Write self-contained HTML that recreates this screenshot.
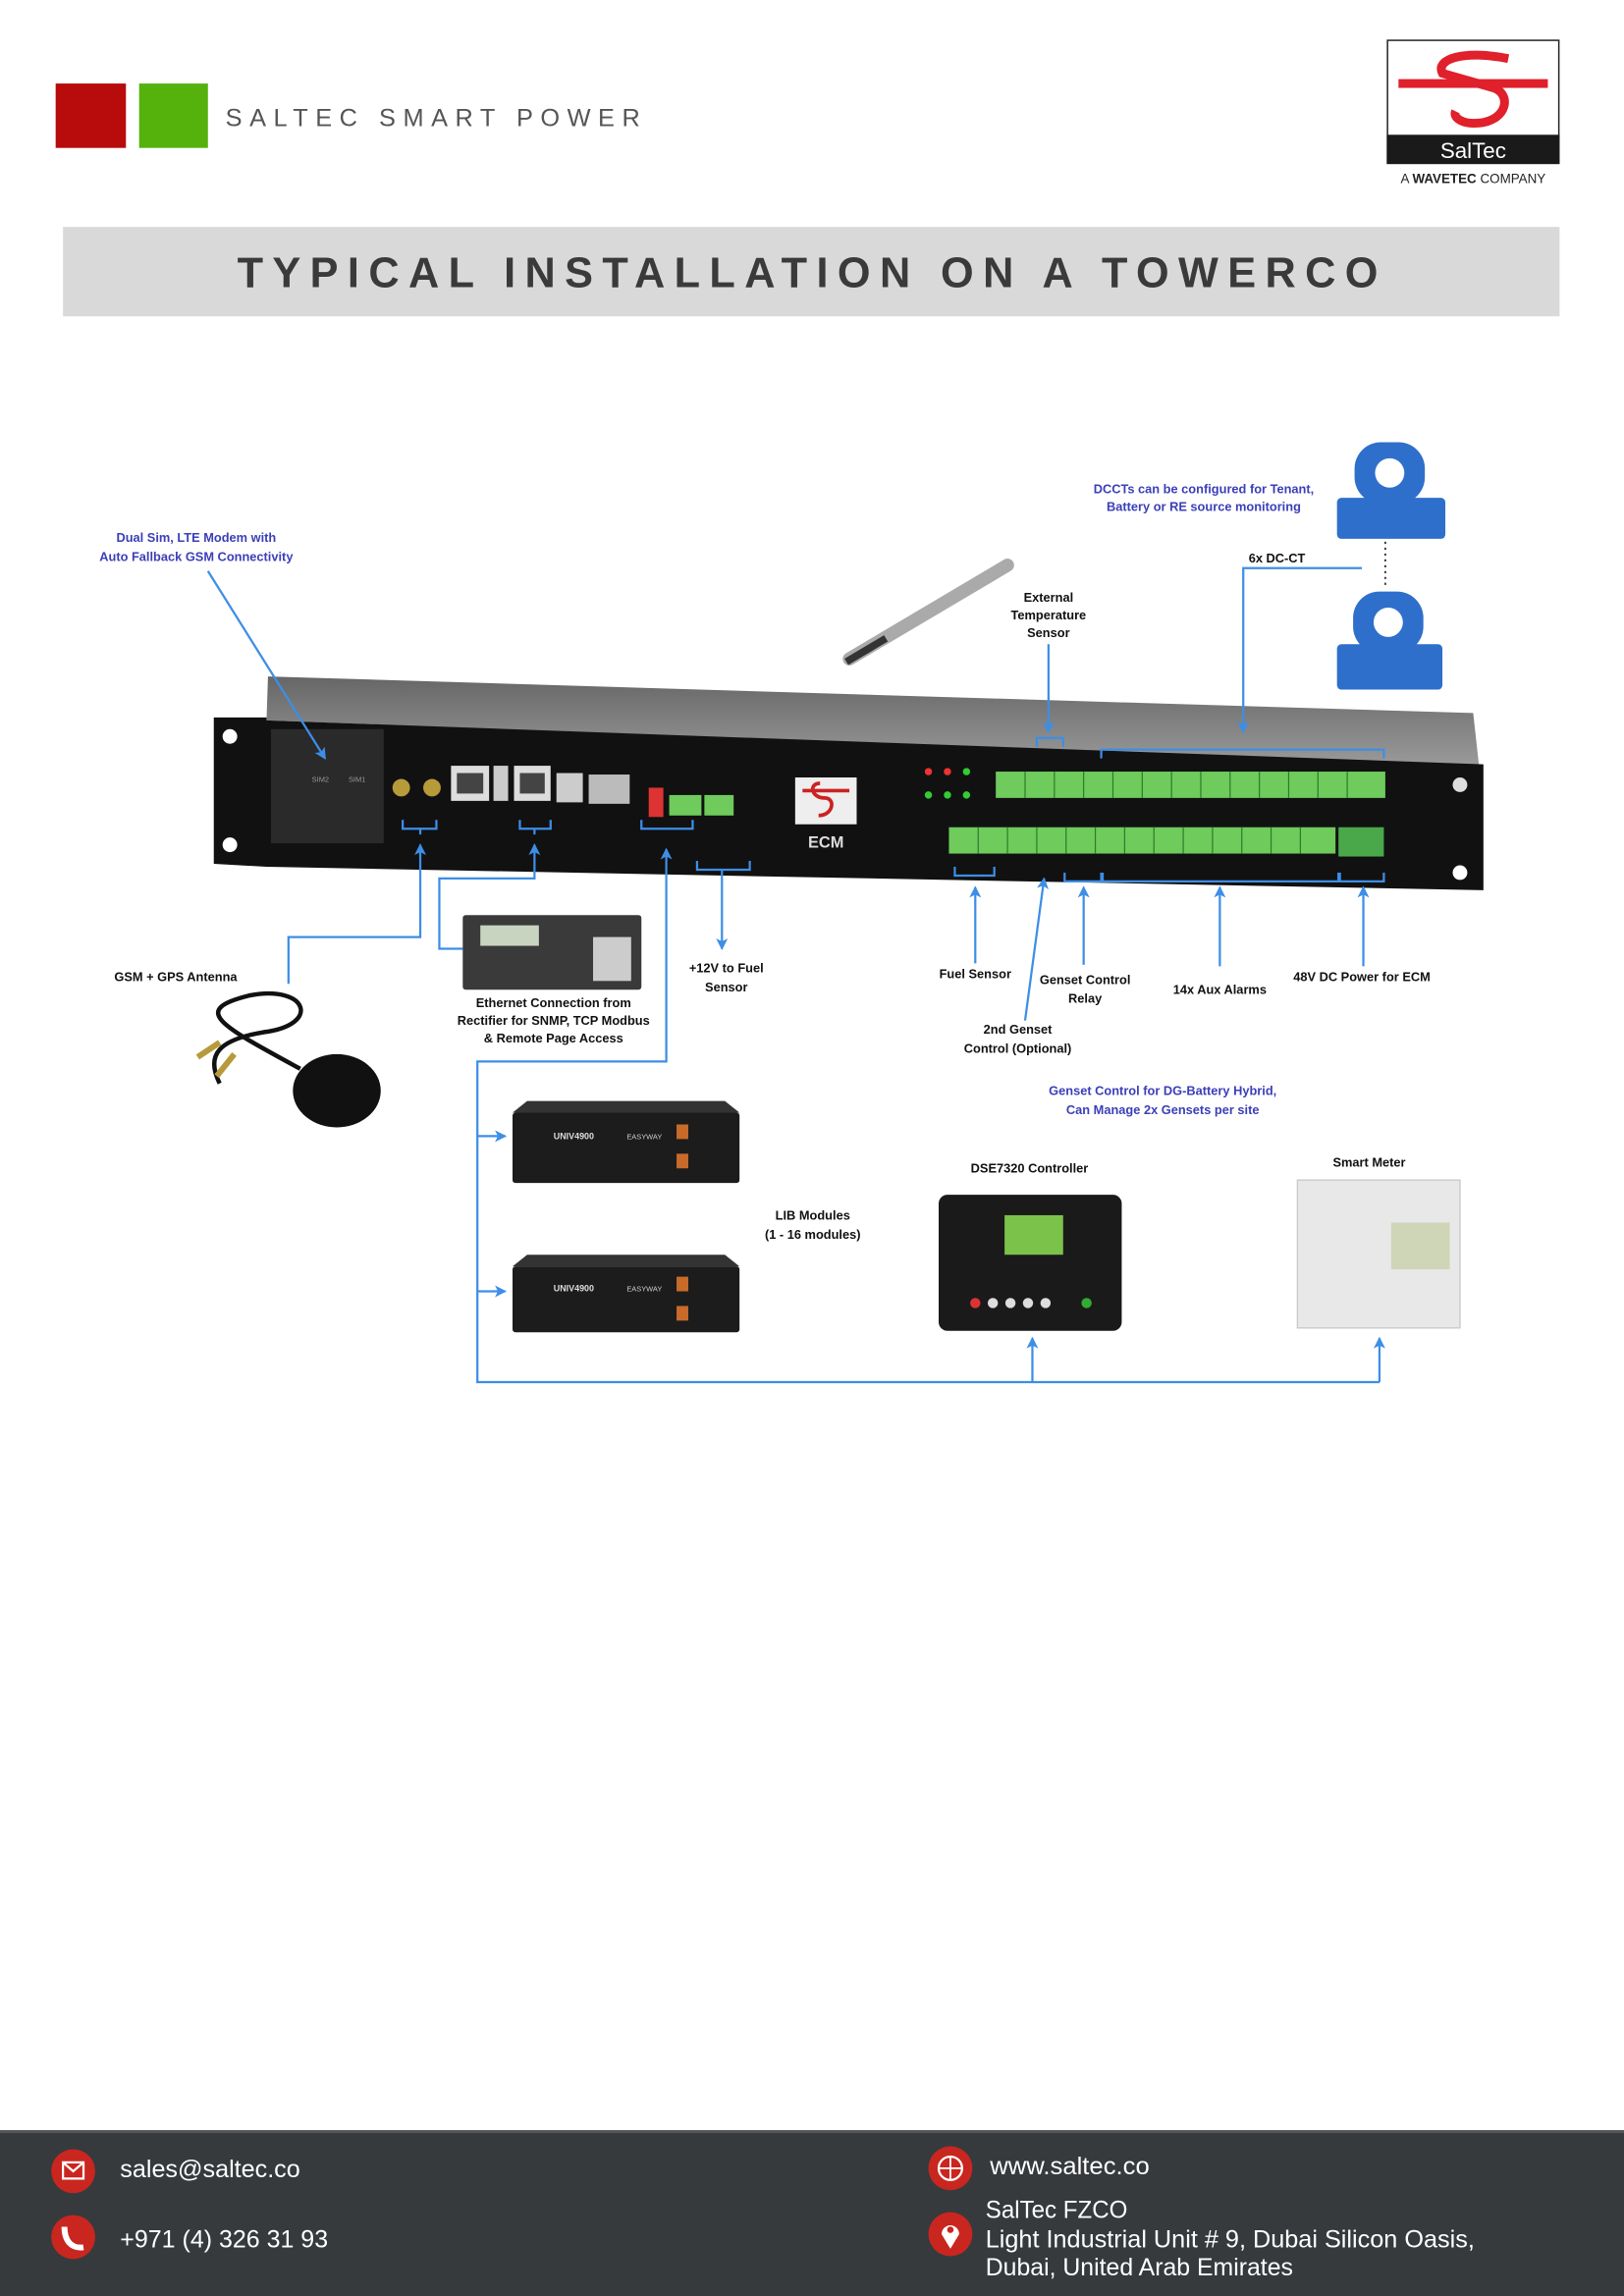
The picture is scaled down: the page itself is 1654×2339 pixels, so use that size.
<!DOCTYPE html>
<html><head><meta charset="utf-8"><style>
html,body{margin:0;padding:0;background:#fff;}
svg{display:block;}
text{font-family:"Liberation Sans",sans-serif;}
.bl{fill:#3b3fb8;font-weight:bold;font-size:8.6px;text-anchor:middle;}
.k{fill:#111;font-weight:bold;font-size:8.6px;text-anchor:middle;}
.ln{stroke:#3d8ee6;stroke-width:1.5;fill:none;}
.ft{fill:#fff;font-size:17px;}
</style></head><body>
<svg width="1654" height="2339" viewBox="0 0 1109 1568.2" xmlns="http://www.w3.org/2000/svg">
<defs>
<marker id="a" markerWidth="8" markerHeight="8" refX="7" refY="4" orient="auto" markerUnits="userSpaceOnUse">
<path d="M0,0 L8,4 L0,8 L2,4 Z" fill="#3d8ee6"/></marker>
<linearGradient id="top" x1="0" y1="0" x2="0" y2="1"><stop offset="0" stop-color="#666"/><stop offset="1" stop-color="#9a9a9a"/></linearGradient>
</defs>
<!-- header -->
<rect x="38" y="57" width="48" height="44" fill="#b80b0b"/>
<rect x="95" y="57" width="47" height="44" fill="#55b20d"/>
<text x="154" y="86" font-size="17" fill="#555" textLength="283" lengthAdjust="spacing">SALTEC SMART POWER</text>
<rect x="947.5" y="27.5" width="117" height="84" fill="#fff" stroke="#222"/>
<path d="M1030,40 C1000,34 980,40 985,50 L1020,60 C1032,64 1030,82 1010,84 C998,85 992,80 994,76" stroke="#e0202a" stroke-width="6" fill="none"/>
<rect x="955" y="54" width="102" height="6" fill="#e0202a"/>
<rect x="947" y="92" width="118" height="20" fill="#1a1a1a"/>
<text x="1006" y="108" font-size="15" fill="#fff" text-anchor="middle">SalTec</text>
<text x="1006" y="125" font-size="9" fill="#222" text-anchor="middle"><tspan>A </tspan><tspan font-weight="bold">WAVETEC</tspan><tspan> COMPANY</tspan></text>
<rect x="43" y="155" width="1022" height="61" fill="#d9d9d9"/>
<text x="162" y="196" font-size="29" font-weight="bold" fill="#3a3a3a" textLength="779" lengthAdjust="spacing">TYPICAL INSTALLATION ON A TOWERCO</text>

<!-- rack device -->
<polygon points="183,462 1006,487 1010,523 182,492" fill="url(#top)"/>
<polygon points="146,490 182,490 182,492 1013,522 1013,608 182,592 146,590" fill="#111"/>
<circle cx="157" cy="503" r="5" fill="#fff"/><circle cx="157" cy="577" r="5" fill="#fff"/>
<circle cx="997" cy="536" r="5" fill="#ddd"/><circle cx="997" cy="596" r="5" fill="#fff"/>
<rect x="185" y="498" width="77" height="78" fill="#2a2a2a"/>
<text x="213" y="534" font-size="5" fill="#999">SIM2</text><text x="238" y="534" font-size="5" fill="#999">SIM1</text>
<circle cx="274" cy="538" r="6" fill="#b79a3a"/><circle cx="295" cy="538" r="6" fill="#b79a3a"/>
<rect x="308" y="523" width="26" height="24" fill="#ddd"/><rect x="312" y="528" width="18" height="14" fill="#444"/>
<rect x="337" y="523" width="10" height="24" fill="#ccc"/>
<rect x="351" y="523" width="25" height="24" fill="#ddd"/><rect x="355" y="528" width="17" height="14" fill="#444"/>
<rect x="380" y="528" width="18" height="20" fill="#ccc"/><rect x="402" y="529" width="28" height="20" fill="#bbb"/>
<rect x="443" y="538" width="10" height="20" fill="#d33"/>
<rect x="457" y="543" width="22" height="14" fill="#6ecb5c"/><rect x="481" y="543" width="20" height="14" fill="#6ecb5c"/>
<rect x="543" y="531" width="42" height="32" fill="#eee"/><path d="M548,540 h32 M560,535 c-8,0 -6,10 3,10 c8,0 6,12 -4,12" stroke="#c22" stroke-width="2.5" fill="none"/>
<text x="564" y="579" font-size="11" font-weight="bold" fill="#ddd" text-anchor="middle">ECM</text>
<circle cx="634" cy="527" r="2.5" fill="#e33"/><circle cx="647" cy="527" r="2.5" fill="#e33"/><circle cx="660" cy="527" r="2.5" fill="#3c3"/>
<circle cx="634" cy="543" r="2.5" fill="#3c3"/><circle cx="647" cy="543" r="2.5" fill="#3c3"/><circle cx="660" cy="543" r="2.5" fill="#3c3"/>
<rect x="680" y="527" width="266" height="18" fill="#6ecb5c"/>
<g stroke="#2f7a2a" stroke-width="0.8"><path d="M700,527v18M720,527v18M740,527v18M760,527v18M780,527v18M800,527v18M820,527v18M840,527v18M860,527v18M880,527v18M900,527v18M920,527v18"/></g>
<rect x="648" y="565" width="264" height="18" fill="#6ecb5c"/>
<g stroke="#2f7a2a" stroke-width="0.8"><path d="M668,565v18M688,565v18M708,565v18M728,565v18M748,565v18M768,565v18M788,565v18M808,565v18M828,565v18M848,565v18M868,565v18M888,565v18"/></g>
<rect x="914" y="565" width="31" height="20" fill="#4aa84a"/>

<!-- brackets -->
<g class="ln">
<path d="M275,560 v6 h23 v-6 M287,566 v4"/>
<path d="M355,560 v6 h21 v-6 M365,566 v4"/>
<path d="M438,560 v6 h35 v-6"/>
<path d="M476,588 v6 h36 v-6 M493,594 v54" marker-end="url(#a)"/>
<path d="M708,510 v-6 h18 v6"/>
<path d="M752,518 v-6 h193 v6"/>
<path d="M652,592 v6 h27 v-6"/>
<path d="M727,596 v6 h25 v-6"/>
<path d="M753,596 v6 h161 v-6"/>
<path d="M915,596 v6 h30 v-6"/>
<path d="M142,390 L222,518" marker-end="url(#a)"/>
<path d="M197,672 V640 H287 V577" marker-end="url(#a)"/>
<path d="M316,648 H300 V600 H365 V577" marker-end="url(#a)"/>
<path d="M942,944 H326 V725 H455 V580" marker-end="url(#a)"/>
<path d="M326,776 H345" marker-end="url(#a)"/>
<path d="M326,882 H345" marker-end="url(#a)"/>
<path d="M705,944 V914" marker-end="url(#a)"/>
<path d="M942,944 V914" marker-end="url(#a)"/>
<path d="M716,440 V500" marker-end="url(#a)"/>
<path d="M930,388 H849 V500" marker-end="url(#a)"/>
<path d="M666,658 V606" marker-end="url(#a)"/>
<path d="M700,697 L713,600" marker-end="url(#a)"/>
<path d="M740,659 V606" marker-end="url(#a)"/>
<path d="M833,660 V606" marker-end="url(#a)"/>
<path d="M931,660 V606" marker-end="url(#a)"/>
</g>
<path d="M946,370 V402" stroke="#333" stroke-width="1.2" stroke-dasharray="1.5 2.5"/>

<!-- DCCTs -->
<g fill="#2f6fcc">
<rect x="913" y="340" width="74" height="28" rx="3"/><rect x="925" y="302" width="48" height="42" rx="18"/>
<rect x="913" y="440" width="72" height="31" rx="3"/><rect x="924" y="404" width="48" height="42" rx="18"/>
</g>
<circle cx="949" cy="323" r="10" fill="#fff"/><circle cx="948" cy="425" r="10" fill="#fff"/>
<!-- temp probe -->
<path d="M580,450 L688,386" stroke="#aaa" stroke-width="9" stroke-linecap="round"/>
<path d="M578,452 L605,436" stroke="#333" stroke-width="5"/>
<!-- antenna -->
<ellipse cx="230" cy="745" rx="30" ry="25" fill="#111"/>
<path d="M205,730 C150,700 130,690 170,680 C210,672 220,700 180,705 C150,710 140,720 150,740" stroke="#111" stroke-width="3" fill="none"/>
<path d="M150,712 L135,722 M160,720 L148,735" stroke="#b79a3a" stroke-width="4"/>
<!-- rectifier -->
<rect x="316" y="625" width="122" height="51" fill="#3a3a3a" rx="2"/>
<rect x="328" y="632" width="40" height="14" fill="#c8d4c0"/>
<rect x="405" y="640" width="26" height="30" fill="#ccc"/>
<!-- LIB modules -->
<g>
<rect x="350" y="760" width="155" height="48" fill="#1c1c1c" rx="2"/><polygon points="360,752 495,752 505,760 350,760" fill="#333"/>
<text x="378" y="778" font-size="6" font-weight="bold" fill="#ddd">UNIV4900</text><text x="428" y="778" font-size="5" fill="#ccc">EASYWAY</text>
<rect x="462" y="768" width="8" height="10" fill="#c86a2a"/><rect x="462" y="788" width="8" height="10" fill="#c86a2a"/>
<rect x="350" y="865" width="155" height="45" fill="#1c1c1c" rx="2"/><polygon points="360,857 495,857 505,865 350,865" fill="#333"/>
<text x="378" y="882" font-size="6" font-weight="bold" fill="#ddd">UNIV4900</text><text x="428" y="882" font-size="5" fill="#ccc">EASYWAY</text>
<rect x="462" y="872" width="8" height="10" fill="#c86a2a"/><rect x="462" y="892" width="8" height="10" fill="#c86a2a"/>
</g>
<!-- DSE -->
<rect x="641" y="816" width="125" height="93" rx="6" fill="#1a1a1a"/>
<rect x="686" y="830" width="40" height="27" fill="#7bc24a"/>
<g fill="#ddd"><circle cx="666" cy="890" r="3.5" fill="#d33"/><circle cx="678" cy="890" r="3.5"/><circle cx="690" cy="890" r="3.5"/><circle cx="702" cy="890" r="3.5"/><circle cx="714" cy="890" r="3.5"/><circle cx="742" cy="890" r="3.5" fill="#3a3"/></g>
<!-- smart meter -->
<rect x="886" y="806" width="111" height="101" fill="#e8e8e8" stroke="#ccc"/>
<rect x="950" y="835" width="40" height="32" fill="#cfd6b8"/>

<!-- labels -->
<text class="bl" x="134" y="370">Dual Sim, LTE Modem with</text>
<text class="bl" x="134" y="383">Auto Fallback GSM Connectivity</text>
<text class="bl" x="822" y="337">DCCTs can be configured for Tenant,</text>
<text class="bl" x="822" y="349">Battery or RE source monitoring</text>
<text class="bl" x="794" y="748">Genset Control for DG-Battery Hybrid,</text>
<text class="bl" x="794" y="761">Can Manage 2x Gensets per site</text>
<text class="k" x="716" y="411">External</text><text class="k" x="716" y="423">Temperature</text><text class="k" x="716" y="435">Sensor</text>
<text class="k" x="872" y="384">6x DC-CT</text>
<text class="k" x="120" y="670">GSM + GPS Antenna</text>
<text class="k" x="378" y="688">Ethernet Connection from</text>
<text class="k" x="378" y="700">Rectifier for SNMP, TCP Modbus</text>
<text class="k" x="378" y="712">&amp; Remote Page Access</text>
<text class="k" x="496" y="664">+12V to Fuel</text><text class="k" x="496" y="677">Sensor</text>
<text class="k" x="666" y="668">Fuel Sensor</text>
<text class="k" x="741" y="672">Genset Control</text><text class="k" x="741" y="685">Relay</text>
<text class="k" x="695" y="706">2nd Genset</text><text class="k" x="695" y="719">Control (Optional)</text>
<text class="k" x="833" y="679">14x Aux Alarms</text>
<text class="k" x="930" y="670">48V DC Power for ECM</text>
<text class="k" x="703" y="801">DSE7320 Controller</text>
<text class="k" x="935" y="797">Smart Meter</text>
<text class="k" x="555" y="833">LIB Modules</text><text class="k" x="555" y="846">(1 - 16 modules)</text>

<!-- footer -->
<rect x="0" y="1455" width="1109" height="114" fill="#363a3d"/>
<rect x="0" y="1455" width="1109" height="2" fill="#555"/>
<circle cx="50" cy="1483" r="15" fill="#c9261f"/><path d="M43,1477 h14 v11 h-14 z M43,1477 l7,6 l7,-6" stroke="#fff" stroke-width="1.5" fill="none"/>
<circle cx="50" cy="1528" r="15" fill="#c9261f"/><path d="M44,1521 c0,10 5,15 13,14" stroke="#fff" stroke-width="4" fill="none"/>
<circle cx="649" cy="1481" r="15" fill="#c9261f"/><circle cx="649" cy="1481" r="8" stroke="#fff" stroke-width="1.5" fill="none"/><path d="M641,1481 h16 M649,1473 v16" stroke="#fff" stroke-width="1.2"/>
<circle cx="649" cy="1526" r="15" fill="#c9261f"/><path d="M649,1536 l-6,-10 a6,6 0 1 1 12,0 z" fill="#fff"/><circle cx="649" cy="1523" r="2.2" fill="#c9261f"/>
<text class="ft" x="82" y="1487" textLength="123" lengthAdjust="spacingAndGlyphs">sales@saltec.co</text>
<text class="ft" x="82" y="1535" textLength="142" lengthAdjust="spacingAndGlyphs">+971 (4) 326 31 93</text>
<text class="ft" x="676" y="1485" textLength="109" lengthAdjust="spacingAndGlyphs">www.saltec.co</text>
<text class="ft" x="673" y="1515" textLength="97" lengthAdjust="spacingAndGlyphs">SalTec FZCO</text>
<text class="ft" x="673" y="1535" textLength="334" lengthAdjust="spacingAndGlyphs">Light Industrial Unit # 9, Dubai Silicon Oasis,</text>
<text class="ft" x="673" y="1554" textLength="210" lengthAdjust="spacingAndGlyphs">Dubai, United Arab Emirates</text>
</svg>
</body></html>
